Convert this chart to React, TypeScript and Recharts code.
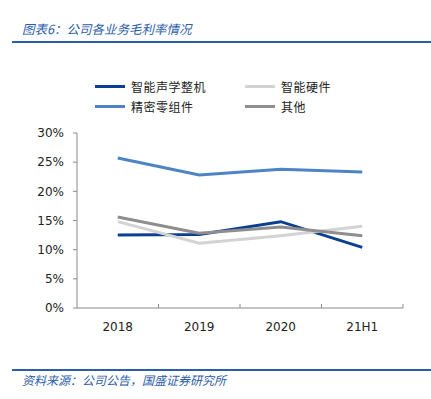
import React from 'react'
import { ComposedChart, Line, XAxis, YAxis, Legend } from 'recharts'

const YEARS = ['2018', '2019', '2020', '21H1']
const ACOUSTIC = [12.5, 12.6, 14.8, 10.4] // 智能声学整机
const HARDWARE = [14.8, 11.1, 12.4, 14.0] // 智能硬件
const PRECISION = [25.7, 22.8, 23.8, 23.3] // 精密零组件
const OTHER = [15.6, 12.8, 13.9, 12.4] // 其他
const Y_TICKS = [0, 5, 10, 15, 20, 25, 30]

const SERIES = [
  { key: 'acoustic', name: '智能声学整机', color: '#0B3F92' },
  { key: 'hardware', name: '智能硬件', color: '#D3D3D3' },
  { key: 'precision', name: '精密零组件', color: '#4C84C6' },
  { key: 'other', name: '其他', color: '#8E8E8E' },
]

const data = YEARS.map((year, i) => ({
  year,
  acoustic: ACOUSTIC[i],
  hardware: HARDWARE[i],
  precision: PRECISION[i],
  other: OTHER[i],
}))

const AXIS = '#8a8a8a'
const CJK = '"Noto Sans CJK SC", sans-serif'
const BLUE = '#2B5DA8'
const NUM_FONT = '"DejaVu Sans", sans-serif'

// 图例：两列两行
function LegendBox() {
  const cells = [
    { s: SERIES[0], x: 95, y: 0 },
    { s: SERIES[1], x: 245, y: 0 },
    { s: SERIES[2], x: 95, y: 20 },
    { s: SERIES[3], x: 245, y: 20 },
  ]
  return (
    <div style={{ position: 'relative', width: 431, height: 40 }}>
      {cells.map(({ s, x, y }) => (
        <div
          key={s.key}
          style={{ position: 'absolute', left: x, top: y, height: 20, display: 'flex', alignItems: 'center' }}
        >
          <span style={{ display: 'inline-block', width: 30, height: 3, background: s.color, marginRight: 6 }} />
          <span style={{ fontFamily: CJK, fontSize: 12, color: '#222', letterSpacing: 0.5 }}>{s.name}</span>
        </div>
      ))}
    </div>
  )
}

// 类别标签 + 类别分界处向上的短刻度
function CategoryTick(props: any) {
  const { x, y, payload, index } = props
  const half = payload?.offset ?? 0
  const last = index === YEARS.length - 1
  return (
    <g>
      {index > 0 && <line x1={x - half} x2={x - half} y1={y} y2={y - 4} stroke={AXIS} strokeWidth={1} />}
      {last && <line x1={x + half} x2={x + half} y1={y} y2={y - 4} stroke={AXIS} strokeWidth={1} />}
      <text
        x={x}
        y={y + 19}
        textAnchor="middle"
        dominantBaseline="central"
        fontSize={12}
        fill="#222"
        fontFamily={NUM_FONT}
      >
        {payload.value}
      </text>
    </g>
  )
}

export default function App() {
  return (
    <div style={{ position: 'absolute', left: 0, top: 0, width: 431, height: 399, background: '#fff' }}>
      <div
        style={{
          position: 'absolute',
          left: 22,
          top: 19,
          fontFamily: CJK,
          fontStyle: 'italic',
          fontSize: 12.5,
          color: BLUE,
          whiteSpace: 'nowrap',
        }}
      >
        图表6：公司各业务毛利率情况
      </div>
      <div style={{ position: 'absolute', left: 12, top: 41, width: 419, height: 2, background: BLUE }} />

      <div style={{ position: 'absolute', left: 0, top: 0 }}>
        <ComposedChart
          width={431}
          height={399}
          data={data}
          margin={{ top: 133, right: 28, bottom: 61, left: 0 }}
        >
          <XAxis
            dataKey="year"
            scale="band"
            height={30}
            axisLine={{ stroke: AXIS }}
            tickLine={false}
            tickSize={0}
            tickMargin={0}
            tick={<CategoryTick />}
          />
          <YAxis
            width={77}
            domain={[0, 30]}
            ticks={Y_TICKS}
            tickFormatter={(v) => `${v}%`}
            axisLine={{ stroke: AXIS }}
            tickLine={{ stroke: AXIS }}
            tickSize={4}
            tickMargin={9}
            tick={{ fontSize: 12, fill: '#222', fontFamily: NUM_FONT }}
          />
          <Legend
            layout="horizontal"
            verticalAlign="middle"
            align="center"
            wrapperStyle={{ top: 76, left: 0, width: 431 }}
            content={<LegendBox />}
          />
          {SERIES.map((s) => (
            <Line
              key={s.key}
              dataKey={s.key}
              name={s.name}
              stroke={s.color}
              strokeWidth={3}
              dot={false}
              activeDot={false}
              type="linear"
              isAnimationActive={false}
            />
          ))}
        </ComposedChart>
      </div>

      <div style={{ position: 'absolute', left: 12, top: 369, width: 419, height: 2, background: BLUE }} />
      <div
        style={{
          position: 'absolute',
          left: 22,
          top: 371,
          fontFamily: CJK,
          fontStyle: 'italic',
          fontSize: 12,
          color: BLUE,
          whiteSpace: 'nowrap',
        }}
      >
        资料来源：公司公告，国盛证券研究所
      </div>
    </div>
  )
}
